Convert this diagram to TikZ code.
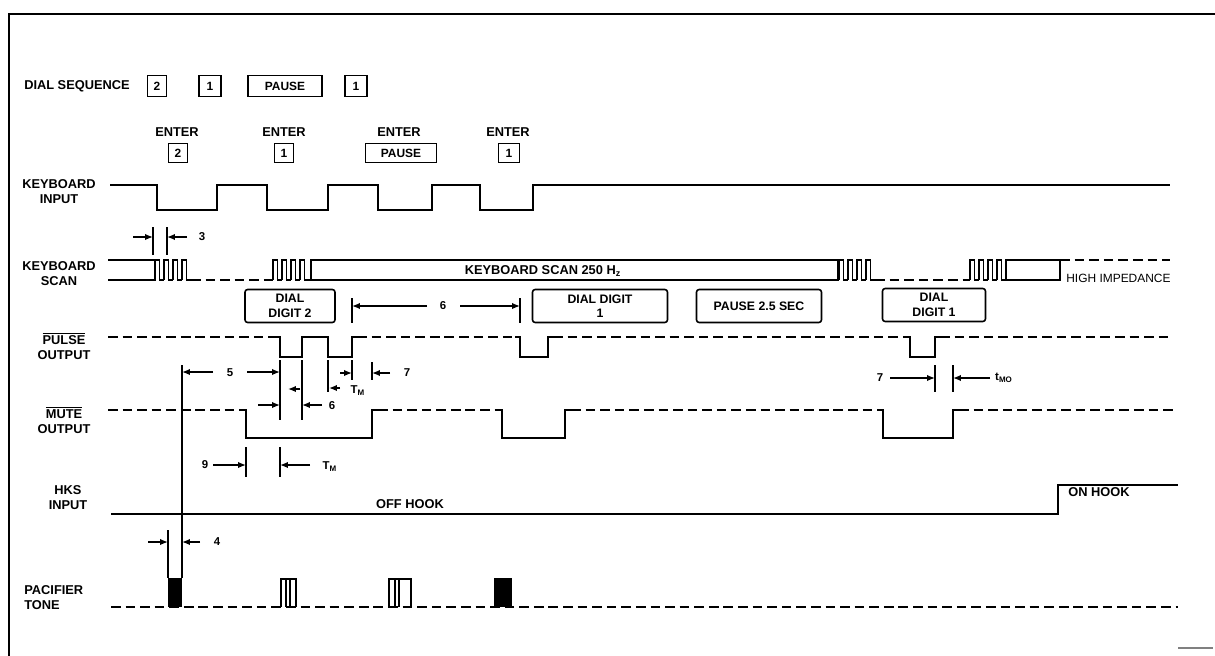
\documentclass[tikz,border=0pt]{standalone}
\usepackage{fontspec}
\setmainfont{Liberation Sans}
\usetikzlibrary{arrows.meta}
\tikzset{
  wave/.style={line width=1.1pt},
  hiz/.style={line width=1.1pt, dash pattern=on 5.5pt off 2.8pt},
  sig/.style={font=\fontsize{7.3}{8.6}\selectfont\bfseries, align=center, inner sep=0pt},
  kbox/.style={draw, line width=0.9pt, inner sep=0pt, font=\fontsize{6.8}{7}\selectfont\bfseries},
  dig/.style={draw, line width=0.9pt, rounded corners=1.5pt, inner sep=0pt, minimum height=0.66cm,
              font=\fontsize{7}{8.2}\selectfont\bfseries, align=center},
  dimarr/.style={-{Latex[length=4.5pt,width=3.6pt]}, line width=0.8pt},
  tck/.style={line width=0.8pt},
  num/.style={font=\fontsize{6.5}{7}\selectfont\bfseries, inner sep=0pt},
}

\begin{document}
\begin{tikzpicture}[x=0.02cm, y=-0.02cm]
        \useasboundingbox (0,0) rectangle (1215,656);
        \draw[line width=1.2pt] (9,656) -- (9,14) -- (1215,14);
        \draw[gray, line width=0.6pt] (1178,648) -- (1213,648);

        \node[sig] (dseq) at (77,86) {DIAL SEQUENCE};
        \node[kbox, minimum width=0.38cm, minimum height=0.42cm] (sq1) at (157,86) {2};
        \node[kbox, minimum width=0.44cm, minimum height=0.42cm] (sq2) at (210,86) {1};
        \node[kbox, minimum width=1.48cm, minimum height=0.42cm] (sq3) at (285,86) {PAUSE};
        \node[kbox, minimum width=0.44cm, minimum height=0.42cm] (sq4) at (356,86) {1};

        \foreach \x/\k in {177/a,284/b,399/c,508/d}
          \node[sig] (ent\k) at (\x,132) {ENTER};
        \node[kbox, minimum width=0.38cm, minimum height=0.38cm] (ek1) at (178,153) {2};
        \node[kbox, minimum width=0.38cm, minimum height=0.38cm] (ek2) at (284,153) {1};
        \node[kbox, minimum width=1.42cm, minimum height=0.38cm] (ek3) at (401,153) {PAUSE};
        \node[kbox, minimum width=0.42cm, minimum height=0.38cm] (ek4) at (509,153) {1};

        \node[sig] (kbin) at (59,192) {KEYBOARD\\INPUT};
        \node[sig] (kbsc) at (59,274) {KEYBOARD\\SCAN};
        \node[sig] (puls) at (64,346) {$\overline{\hbox{PULSE}}$\\OUTPUT};
        \node[sig] (mute) at (64,420) {$\overline{\hbox{MUTE}}$\\OUTPUT};
        \node[sig] (hks) at (68,498) {HKS\\INPUT};
        \node[sig, align=left, anchor=west] (pac) at (24,598) {PACIFIER\\TONE};

        \draw[wave] (110,185) -| (157,210) -| (217,185) -| (267,210) -| (328,185)
                    -| (378,210) -| (432,185) -| (480,210) -| (533,185) -- (1170,185);

        \draw[wave] (108,260) -- (155,260) -- (155,280) -- (108,280);
        \foreach \s in {155,273,839,970}
          \foreach \k in {0,...,3}
            \draw[wave] (\s+\k*9,280) |- (\s+\k*9+4.5,260) |- (\s+\k*9+9,280);
        \draw[hiz] (191,280) -- (273,280);
        \draw[wave] (309,280) -- (311,280);
        \draw[wave] (311,260) rectangle (838,280);
        \node[sig] (kbsc250) at (543,271) {KEYBOARD SCAN 250 H\textsubscript{z}};
        \draw[hiz] (875,280) -- (970,280);
        \draw[wave] (1006,260) rectangle (1060,280);
        \draw[hiz] (1060,260) -- (1170,260);
        \node[font=\fontsize{6.8}{8}\selectfont, anchor=west, inner sep=0pt] (himp) at (1066,278) {HIGH IMPEDANCE};

        \node[dig, minimum width=1.8cm] (dd2) at (290,306) {DIAL\\DIGIT 2};
        \node[dig, minimum width=2.7cm] (dd1) at (600,306) {DIAL DIGIT\\1};
        \node[dig, minimum width=2.5cm] (pse) at (759,306) {PAUSE 2.5 SEC};
        \node[dig, minimum width=2.06cm] (dd1b) at (934,305) {DIAL\\DIGIT 1};

        \draw[hiz] (108,337) -- (275,337);
        \draw[wave] (275,337) -| (280,357) -| (302,337) -| (328,357) -| (352,337) -- (357,337);
        \draw[hiz] (357,337) -- (515,337);
        \draw[wave] (515,337) -| (520,357) -| (548,337) -- (553,337);
        \draw[hiz] (553,337) -- (905,337);
        \draw[wave] (905,337) -| (910,357) -| (935,337) -- (940,337);
        \draw[hiz] (940,337) -- (1170,337);

        \draw[hiz] (108,410) -- (241,410);
        \draw[wave] (241,410) -| (246,438) -| (372,410) -- (378,410);
        \draw[hiz] (378,410) -- (497,410);
        \draw[wave] (497,410) -| (502,438) -| (565,410) -- (571,410);
        \draw[hiz] (571,410) -- (878,410);
        \draw[wave] (878,410) -| (883,438) -| (953,410) -- (959,410);
        \draw[hiz] (959,410) -- (1177,410);

        \draw[wave] (111,514) -| (1058,485) -- (1178,485);
        \node[sig] (offh) at (410,504) {OFF HOOK};
        \node[sig, anchor=west] (onh) at (1068,492) {ON HOOK};

        \draw[hiz] (111,607) -- (1178,607);
        \fill (168,578) rectangle (182,607);
        \draw[wave] (281,607) |- (296,579) -- (296,607);
        \draw[line width=0.8pt] (286,579) -- (286,607) (290,579) -- (290,607);
        \draw[wave] (389,607) |- (411,579) -- (411,607);
        \draw[line width=0.8pt] (395,579) -- (395,607) (399,579) -- (399,607);
        \fill (494,578) rectangle (512,607);

        \draw[tck] (153,227) -- (153,255) (167,227) -- (167,255);
        \draw[dimarr] (133,237) -- (153,237);
        \draw[dimarr] (187,237) -- (167,237);
        \node[num] (d3) at (202,237) {3};

        \draw[tck] (352,298) -- (352,323) (520,298) -- (520,323);
        \draw[dimarr] (427,306) -- (352,306);
        \draw[dimarr] (460,306) -- (520,306);
        \node[num] (d6a) at (443,306) {6};

        \draw[tck] (182,365) -- (182,578);
        \draw[tck] (280,360) -- (280,420) (302,360) -- (302,420);
        \draw[dimarr] (213,372) -- (182,372);
        \draw[dimarr] (247,372) -- (280,372);
        \node[num] (d5) at (230,373) {5};
        \draw[dimarr] (300,389) -- (288,389);
        \draw[dimarr] (258,405) -- (280,405);
        \draw[dimarr] (322,405) -- (302,405);
        \node[num] (d6b) at (332,406) {6};

        \draw[tck] (328,360) -- (328,392) (352,360) -- (352,380) (372,362) -- (372,380);
        \draw[dimarr] (340,373) -- (352,373);
        \draw[dimarr] (340,388) -- (329,388);
        \node[num] (tm1) at (358,391) {T\textsubscript{M}};
        \draw[dimarr] (390,373) -- (372,373);
        \node[num] (d7a) at (407,373) {7};

        \draw[tck] (246,447) -- (246,477) (280,447) -- (280,477);
        \draw[dimarr] (213,465) -- (246,465);
        \draw[dimarr] (310,465) -- (280,465);
        \node[num] (d9) at (205,465) {9};
        \node[num] (tm2) at (330,467) {T\textsubscript{M}};

        \draw[tck] (935,365) -- (935,392) (953,365) -- (953,392);
        \draw[dimarr] (890,378) -- (935,378);
        \draw[dimarr] (990,378) -- (953,378);
        \node[num] (d7b) at (880,378) {7};
        \node[num] (tmo) at (1004,378) {t\textsubscript{MO}};

        \draw[tck] (168,530) -- (168,578);
        \draw[dimarr] (148,542) -- (168,542);
        \draw[dimarr] (200,542) -- (182,542);
        \node[num] (d4) at (217,542) {4};
      \end{tikzpicture}
\end{document}
